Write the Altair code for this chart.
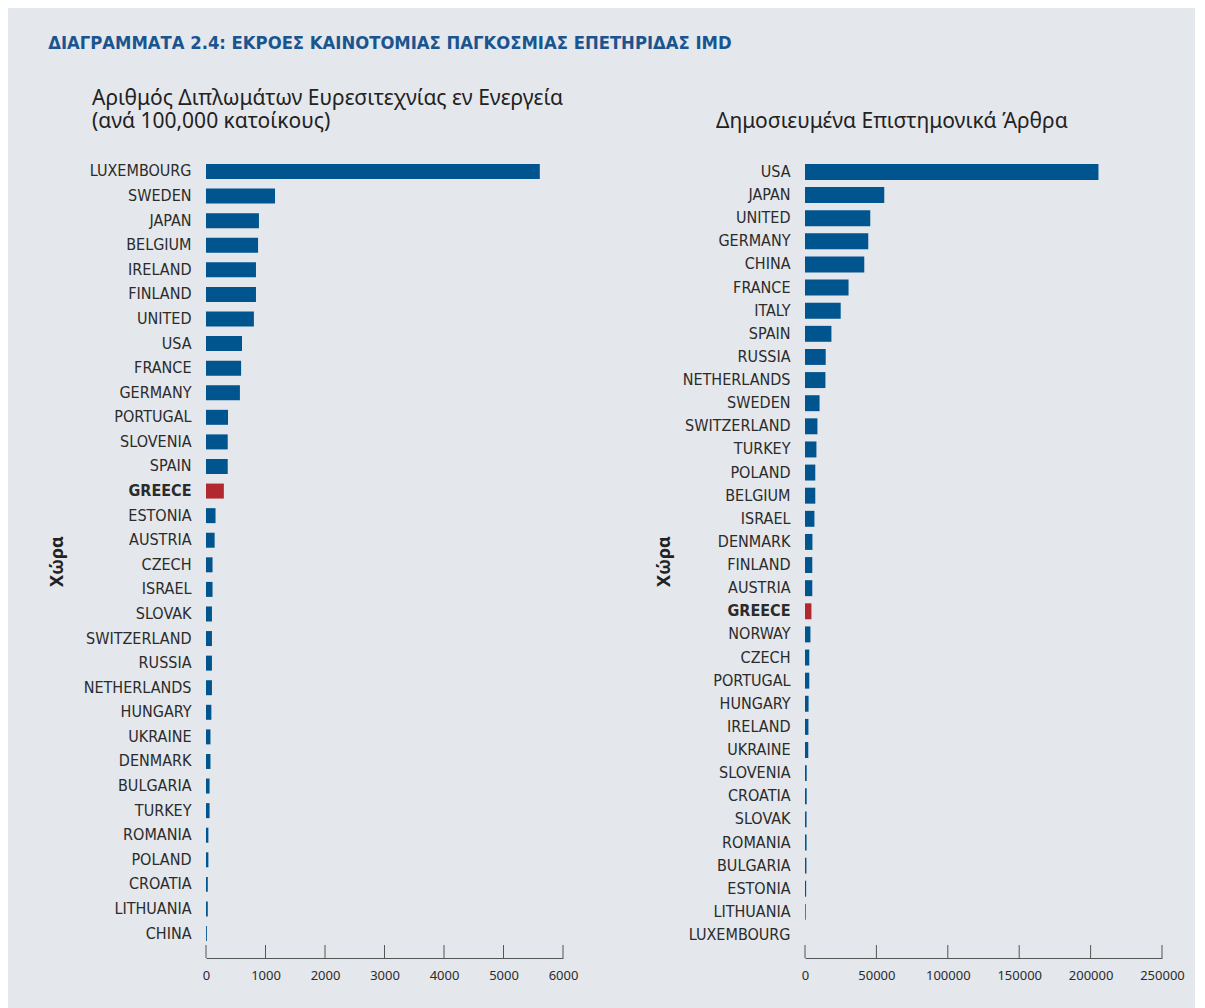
import altair as alt
import pandas as pd

# ---------------- data ----------------
pat_countries = ["LUXEMBOURG", "SWEDEN", "JAPAN", "BELGIUM", "IRELAND", "FINLAND", "UNITED",
                 "USA", "FRANCE", "GERMANY", "PORTUGAL", "SLOVENIA", "SPAIN", "GREECE",
                 "ESTONIA", "AUSTRIA", "CZECH", "ISRAEL", "SLOVAK", "SWITZERLAND", "RUSSIA",
                 "NETHERLANDS", "HUNGARY", "UKRAINE", "DENMARK", "BULGARIA", "TURKEY",
                 "ROMANIA", "POLAND", "CROATIA", "LITHUANIA", "CHINA"]
pat_values = [5610, 1160, 890, 875, 840, 840, 805, 605, 590, 570, 370, 365, 365, 300,
              160, 145, 110, 110, 100, 100, 100, 100, 90, 75, 75, 60, 60, 40, 40, 30, 30, 15]

art_countries = ["USA", "JAPAN", "UNITED", "GERMANY", "CHINA", "FRANCE", "ITALY", "SPAIN",
                 "RUSSIA", "NETHERLANDS", "SWEDEN", "SWITZERLAND", "TURKEY", "POLAND",
                 "BELGIUM", "ISRAEL", "DENMARK", "FINLAND", "AUSTRIA", "GREECE", "NORWAY",
                 "CZECH", "PORTUGAL", "HUNGARY", "IRELAND", "UKRAINE", "SLOVENIA", "CROATIA",
                 "SLOVAK", "ROMANIA", "BULGARIA", "ESTONIA", "LITHUANIA", "LUXEMBOURG"]
art_values = [205500, 55500, 45700, 44300, 41500, 30500, 25000, 18500, 14500, 14300,
              10200, 8700, 8000, 7200, 7200, 6600, 5200, 5100, 5100, 4500, 3800, 3000,
              3000, 2500, 2400, 2300, 1200, 1200, 1100, 1100, 1000, 800, 500, 0]

pat_ticks = [0, 1000, 2000, 3000, 4000, 5000, 6000]
art_ticks = [0, 50000, 100000, 150000, 200000, 250000]

main_title = "ΔΙΑΓΡΑΜΜΑΤΑ 2.4: ΕΚΡΟΕΣ ΚΑΙΝΟΤΟΜΙΑΣ ΠΑΓΚΟΣΜΙΑΣ ΕΠΕΤΗΡΙΔΑΣ IMD"
pat_title = "Αριθμός Διπλωμάτων Ευρεσιτεχνίας εν Ενεργεία"
pat_subtitle = "(ανά 100,000 κατοίκους)"
art_title = "Δημοσιευμένα Επιστημονικά Άρθρα"
y_title = "Χώρα"
highlight = "GREECE"

# ---------------- style ----------------
BLUE = "#00558f"
RED = "#b2282f"
BG = "#e4e7ec"
TXT = "#2b2b2b"
AXC = "#555555"
COND = "DejaVu Sans Condensed, Liberation Sans Narrow, Roboto, sans-serif"
SANS = "Noto Sans, Open Sans, sans-serif"
W = 357
H = 794


def panel(countries, values, ticks, title, subtitle, pad_inner, pad_outer, title_dx, title_pad):
    df = pd.DataFrame({"country": countries, "value": values})
    tdf = pd.DataFrame({"value": ticks})
    xaxis = alt.Axis(title=None, values=ticks, grid=False, ticks=False,
                     domain=True, domainColor=AXC, domainWidth=1, labelFlush=False,
                     labelFont=SANS, labelFontSize=13, labelColor=TXT,
                     labelPadding=11, format="d")
    xscale = alt.Scale(domain=[ticks[0], ticks[-1]], nice=False)
    bars = alt.Chart(df).mark_bar().encode(
        y=alt.Y("country:N", sort=countries,
                scale=alt.Scale(paddingInner=pad_inner, paddingOuter=pad_outer, align=0),
                axis=alt.Axis(title=y_title, domain=False, ticks=False, labelPadding=15,
                              labelFont=COND, labelFontSize=16, labelColor=TXT,
                              labelFontWeight={"condition": {"test": f"datum.value == '{highlight}'",
                                                             "value": "bold"},
                                               "value": "normal"},
                              titleFont=SANS, titleFontSize=18, titleFontWeight="bold",
                              titleColor="#222222", titlePadding=title_pad)),
        x=alt.X("value:Q", scale=xscale, axis=xaxis),
        color=alt.condition(f"datum.country == '{highlight}'", alt.value(RED), alt.value(BLUE)),
    )
    tick_marks = alt.Chart(tdf).mark_rule(color=AXC, strokeWidth=1).encode(
        x=alt.X("value:Q", scale=xscale, axis=xaxis),
        y=alt.value(H - 13),
        y2=alt.value(H),
    )
    tparams = dict(text=title, anchor="start", frame="group", dx=title_dx,
                   offset=31, font=SANS, fontSize=21, fontWeight="normal",
                   color="#222222")
    if subtitle:
        tparams.update(subtitle=subtitle, subtitleFont=SANS, subtitleFontSize=21,
                       subtitleFontWeight="normal", subtitleColor="#222222",
                       subtitlePadding=2)
    return alt.layer(bars, tick_marks).properties(
        width=W, height=H, title=alt.TitleParams(**tparams),
    )


left = panel(pat_countries, pat_values, pat_ticks, pat_title, pat_subtitle, 0.39, 0.345, -114, 17)
right = panel(art_countries, art_values, art_ticks, art_title, None, 0.31, 0.325, -89, 9)

chart = alt.hconcat(left, right, spacing=77).properties(
    title=alt.TitleParams(text=main_title, anchor="start", font=COND, fontSize=18.3,
                          fontWeight="bold", color="#1a5590", offset=35),
    padding={"left": 40, "top": 25, "right": 10, "bottom": 31},
).configure(background=BG).configure_view(stroke=None)

chart.save("out.html", embed_options={"renderer": "svg", "actions": False})
